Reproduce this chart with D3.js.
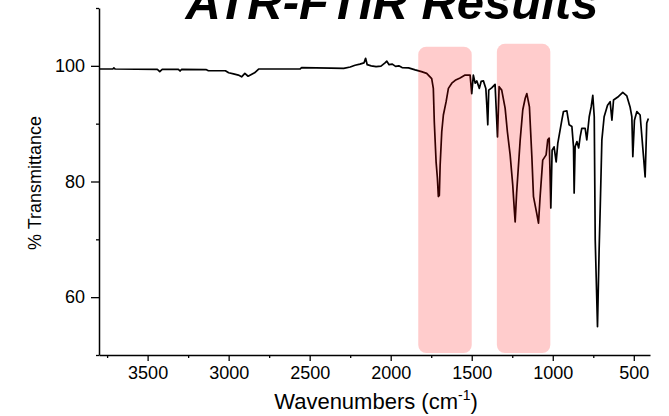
<!DOCTYPE html>
<html>
<head>
<meta charset="utf-8">
<script src="https://cdn.jsdelivr.net/npm/d3@7"></script>
<style>
  html, body { margin: 0; padding: 0; background: #fff; }
  svg { display: block; font-family: "Liberation Sans", Arial, sans-serif; }
</style>
</head>
<body>
<svg id="chart" width="669" height="416"></svg>
<script>
// ---- data ----
const wavenumbers = [
  3795, 3715, 3708, 3700, 3440, 3425, 3410, 3310, 3300, 3290, 3140, 3125, 3020,
  3000, 2970, 2940, 2920, 2900, 2880, 2860, 2840, 2815, 2560, 2550, 2370, 2290,
  2250, 2220, 2190, 2165, 2155, 2145, 2120, 2090, 2060, 2035, 2024, 2010, 1990,
  1970, 1950, 1930, 1890, 1849, 1810, 1778, 1747, 1737, 1731, 1720, 1712, 1706,
  1700, 1695, 1685, 1675, 1658, 1644, 1623, 1602, 1572, 1541, 1510, 1500, 1490,
  1479, 1469, 1453, 1442, 1428, 1413, 1407, 1401, 1395, 1377, 1356, 1341, 1331,
  1315, 1294, 1280, 1263, 1247, 1237, 1232, 1223, 1201, 1185, 1170, 1160, 1144,
  1129, 1119, 1099, 1088, 1078, 1062, 1041, 1031, 1022, 1012, 1004, 992, 979,
  969, 944, 934, 913, 899, 882, 872, 868, 862, 851, 840, 831, 821, 800, 790, 775,
  763, 753, 744, 738, 732, 724, 714, 707, 697, 683, 662, 646, 635, 625, 594, 568,
  543, 523, 512, 506, 496, 481, 461, 440, 430, 420, 410
];
const transmittance = [
  99.45, 99.45, 99.65, 99.45, 99.4, 99.0, 99.4, 99.4, 99.1, 99.4, 99.35, 99.15, 99.15,
  98.8, 98.6, 98.4, 98.1, 98.7, 98.2, 98.5, 98.8, 99.45, 99.45, 99.7, 99.6, 99.55,
  99.8, 100.1, 100.3, 100.5, 101.3, 100.2, 100.0, 99.85, 99.95, 100.5, 100.8, 100.2, 100.3,
  99.9, 100.0, 99.7, 99.65, 99.3, 99.0, 98.7, 97.8, 96.1, 90.3, 83.4, 80.6, 77.4,
  77.6, 82.8, 88.6, 91.5, 93.8, 96.1, 97.0, 97.5, 97.9, 98.4, 98.4, 95.2, 98.4,
  97.0, 97.4, 96.1, 97.3, 97.4, 96.1, 93.2, 89.8, 95.8, 96.2, 96.8, 87.7, 96.4,
  95.8, 92.7, 88.6, 84.6, 79.4, 75.0, 73.0, 78.0, 87.2, 92.4, 94.4, 95.2, 92.9,
  84.3, 77.4, 74.5, 72.8, 77.4, 83.7, 84.6, 87.2, 87.5, 75.4, 85.4, 86.0, 83.4,
  86.6, 90.6, 92.1, 92.2, 89.8, 89.5, 86.0, 78.0, 86.0, 86.9, 85.8, 87.7, 89.2, 89.2, 87.2, 91.2,
  92.9, 94.9, 91.2, 69.9, 63.5, 54.9, 68.1, 75.6, 87.2, 91.2, 93.2, 93.8, 90.6, 94.1, 94.7, 95.4,
  94.8, 92.9, 91.2, 84.3, 90.6, 92.1, 91.5, 84.3, 80.8, 90.1, 90.9
];
const xTickValues = [3500, 3000, 2500, 2000, 1500, 1000, 500];
const xMinorTicks = [3750, 3250, 2750, 2250, 1750, 1250, 750];
const yTickValues = [60, 80, 100];
const yMinorTicks = [50, 70, 90, 110];
const bandStart = [1830, 1345];
const bandEnd = [1500, 1015];
const bandTop = [103.3, 103.8];
const titleText = "ATR-FTIR Results";
const xLabel = "Wavenumbers (cm";
const yLabel = "% Transmittance";

// ---- chart ----
const svg = d3.select("#chart");
const x = d3.scaleLinear().domain([3800, 400]).range([99, 650]);
const y = d3.scaleLinear().domain([50, 110]).range([355, 8]);

const points = wavenumbers.map((w, i) => [w, transmittance[i]]);

// spectrum line
svg.append("path")
  .datum(points)
  .attr("fill", "none")
  .attr("stroke", "#000")
  .attr("stroke-width", 1.7)
  .attr("stroke-linejoin", "round")
  .attr("d", d3.line().x(d => x(d[0])).y(d => y(d[1])));

// highlight bands (drawn on top, translucent)
svg.selectAll("rect.band")
  .data(bandStart.map((s, i) => ({ s, e: bandEnd[i], t: bandTop[i] })))
  .join("rect")
  .attr("class", "band")
  .attr("x", d => x(d.s))
  .attr("width", d => x(d.e) - x(d.s))
  .attr("y", d => y(d.t))
  .attr("height", d => y(50) - 2 - y(d.t))
  .attr("rx", 8)
  .attr("fill", "rgba(255,0,0,0.2)");

const fmt = d3.format("d");

// axes
const xAxis = svg.append("g")
  .attr("transform", `translate(0,${y(50)})`)
  .call(d3.axisBottom(x).tickValues(xTickValues).tickFormat(fmt).tickSize(6).tickSizeOuter(0).tickPadding(5));
xAxis.select(".domain").attr("stroke-width", 1.5);
xAxis.selectAll(".tick line").attr("stroke-width", 1.3);
xAxis.selectAll(".tick text").attr("font-size", 18).attr("fill", "#000")
  .attr("font-family", "'Liberation Sans', Arial, sans-serif");
svg.append("g")
  .attr("transform", `translate(0,${y(50)})`)
  .call(d3.axisBottom(x).tickValues(xMinorTicks).tickSize(3).tickFormat(""))
  .call(g => g.select(".domain").remove())
  .selectAll(".tick line").attr("stroke-width", 1.3);

const yAxis = svg.append("g")
  .attr("transform", `translate(${x(3800)},0)`)
  .call(d3.axisLeft(y).tickValues(yTickValues).tickFormat(fmt).tickSize(8).tickSizeOuter(0).tickPadding(6));
yAxis.select(".domain").attr("stroke-width", 1.5);
yAxis.selectAll(".tick line").attr("stroke-width", 1.3);
yAxis.selectAll(".tick text").attr("font-size", 18).attr("fill", "#000")
  .attr("font-family", "'Liberation Sans', Arial, sans-serif");
svg.append("g")
  .attr("transform", `translate(${x(3800)},0)`)
  .call(d3.axisLeft(y).tickValues(yMinorTicks).tickSize(3).tickFormat(""))
  .call(g => g.select(".domain").remove())
  .selectAll(".tick line").attr("stroke-width", 1.3);

// axis titles
const xt = svg.append("text")
  .attr("x", 376).attr("y", 409)
  .attr("text-anchor", "middle")
  .attr("font-size", 22)
  .attr("fill", "#000");
xt.append("tspan").text(xLabel);
xt.append("tspan").text("-1").attr("font-size", 14).attr("dy", -9);
xt.append("tspan").text(")").attr("dy", 9);

svg.append("text")
  .attr("transform", "translate(41,183) rotate(-90)")
  .attr("text-anchor", "middle")
  .attr("font-size", 18)
  .attr("fill", "#000")
  .text(yLabel);

// title (cropped at the top edge, as in the original)
svg.append("text")
  .attr("x", 392).attr("y", 19)
  .attr("text-anchor", "middle")
  .attr("font-size", 49)
  .attr("font-weight", "bold")
  .attr("font-style", "italic")
  .attr("fill", "#000")
  .text(titleText);
</script>
</body>
</html>
